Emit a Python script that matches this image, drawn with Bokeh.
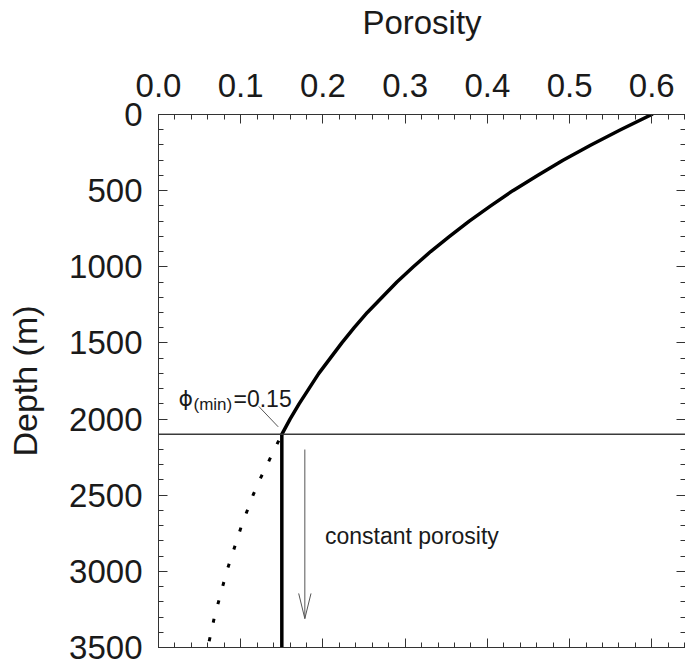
from bokeh.plotting import figure
from bokeh.models import (Range1d, LinearAxis, FixedTicker, PrintfTickFormatter,
                          Span, Label, CustomLabelingPolicy)
from bokeh.embed import file_html
from bokeh.resources import INLINE

# Porosity-depth trend above the porosity floor (m, fraction)
depth_m = [0, 100, 200, 300, 400, 500, 600, 700, 800, 900, 1000, 1100,
           1200, 1300, 1400, 1500, 1600, 1700, 1800, 1900, 2000, 2100]
porosity_trend = [0.600, 0.562, 0.526, 0.492, 0.461, 0.431, 0.404, 0.378,
                  0.354, 0.331, 0.310, 0.290, 0.272, 0.254, 0.238, 0.223,
                  0.209, 0.195, 0.183, 0.171, 0.160, 0.150]

# Same trend continued below the floor (shown dotted)
depth_below_m = [2100, 2200, 2300, 2400, 2500, 2600, 2700, 2800, 2900,
                 3000, 3100, 3200, 3300, 3400, 3500]
porosity_extrapolated = [0.150, 0.141, 0.132, 0.123, 0.115, 0.108, 0.101,
                         0.095, 0.089, 0.083, 0.078, 0.073, 0.068, 0.064, 0.060]

phi_min = 0.15
depth_phi_min = 2100
depth_max = 3500

x_ticks = [0.0, 0.1, 0.2, 0.3, 0.4, 0.5, 0.6]
x_minor = [round(0.02 * i, 2) for i in range(0, 33)]
y_ticks = [0, 500, 1000, 1500, 2000, 2500, 3000, 3500]
y_minor = list(range(0, 3501, 100))

FONT = "Liberation Sans"
AXIS_COLOR = "#333333"
TEXT_COLOR = "#1a1a1a"

p = figure(width=685, height=666,
           x_range=Range1d(0, 0.641), y_range=Range1d(depth_max, 0),
           x_axis_location="above",
           output_backend="svg", toolbar_location=None,
           min_border_left=158, min_border_right=0,
           min_border_top=113, min_border_bottom=19)
p.outline_line_color = None
p.xgrid.visible = False
p.ygrid.visible = False
p.background_fill_color = "white"
p.border_fill_color = "white"

# mirrored axes carry ticks only
no_labels = CustomLabelingPolicy(code="""
    for (const i of indices) { indices.unset(i) }
    return indices
""")


def style_axis(ax, labels=True):
    ax.axis_line_color = AXIS_COLOR
    ax.axis_line_width = 1
    ax.major_tick_in = 9
    ax.major_tick_out = 0
    ax.minor_tick_in = 5
    ax.minor_tick_out = 0
    ax.major_tick_line_color = AXIS_COLOR
    ax.minor_tick_line_color = AXIS_COLOR
    ax.major_label_text_font = FONT
    ax.major_label_text_color = TEXT_COLOR
    ax.axis_label_text_font = FONT
    ax.axis_label_text_font_style = "normal"
    ax.axis_label_text_color = TEXT_COLOR
    if not labels:
        ax.major_label_policy = no_labels
        ax.major_label_text_font_size = "0px"
        ax.major_label_standoff = 0


# top porosity axis
xa = p.xaxis[0]
style_axis(xa)
xa.ticker = FixedTicker(ticks=x_ticks, minor_ticks=x_minor)
xa.formatter = PrintfTickFormatter(format="%.1f")
xa.major_label_text_font_size = "33px"
xa.major_label_standoff = 18
xa.axis_label = "Porosity"
xa.axis_label_text_font_size = "33px"
xa.axis_label_standoff = 30

# left depth axis
ya = p.yaxis[0]
style_axis(ya)
ya.ticker = FixedTicker(ticks=y_ticks, minor_ticks=y_minor)
ya.major_label_text_font_size = "33px"
ya.major_label_standoff = 16
ya.axis_label = "Depth (m)"
ya.axis_label_text_font_size = "34px"
ya.axis_label_standoff = 22

# mirrored ticks on the bottom and right sides
xb = LinearAxis(ticker=FixedTicker(ticks=x_ticks, minor_ticks=x_minor))
style_axis(xb, labels=False)
p.add_layout(xb, "below")
yr = LinearAxis(ticker=FixedTicker(ticks=y_ticks, minor_ticks=y_minor))
style_axis(yr, labels=False)
yr.axis_line_color = None
p.add_layout(yr, "right")

# depth at which porosity reaches its minimum
p.add_layout(Span(location=depth_phi_min, dimension="width",
                  line_color="#3a3a3a", line_width=1.5))

# compaction trend and its dotted continuation
p.line(porosity_trend, depth_m, line_color="black", line_width=3.5,
       line_join="round", line_cap="round")
p.line(porosity_extrapolated, depth_below_m, line_color="black", line_width=3,
       line_dash="4 15", line_dash_offset=12)

# constant porosity below the floor
p.line([phi_min, phi_min], [depth_phi_min, depth_max],
       line_color="black", line_width=3.5)

# downward arrow
arrow_x = 0.178
arrow_top = 2200
arrow_tip = 3310
head_dx = 0.0075
head_dy = 165
p.line([arrow_x, arrow_x], [arrow_top, arrow_tip], line_color="#555555", line_width=1)
p.line([arrow_x - head_dx, arrow_x, arrow_x + head_dx],
       [arrow_tip - head_dy, arrow_tip, arrow_tip - head_dy],
       line_color="#555555", line_width=1)

p.add_layout(Label(x=0.2025, y=2770, text="constant porosity",
                   text_font=FONT, text_font_size="23px", text_color=TEXT_COLOR,
                   text_baseline="alphabetic", text_align="left"))

# phi(min) annotation with leader line
p.line([0.122, 0.1456], [1917, 2051], line_color="#555555", line_width=1)
p.add_layout(Label(x=0.0243, y=1862, text="\u03d5",
                   text_font="DejaVu Sans", text_font_size="22px", text_color=TEXT_COLOR,
                   text_baseline="alphabetic", text_align="left"))
p.add_layout(Label(x=0.0426, y=1905, text="(min)",
                   text_font=FONT, text_font_size="17px", text_color=TEXT_COLOR,
                   text_baseline="alphabetic", text_align="left"))
p.add_layout(Label(x=0.0912, y=1870, text="=0.15",
                   text_font=FONT, text_font_size="23px", text_color=TEXT_COLOR,
                   text_baseline="alphabetic", text_align="left"))

open("out.html", "w").write(file_html(p, INLINE))
